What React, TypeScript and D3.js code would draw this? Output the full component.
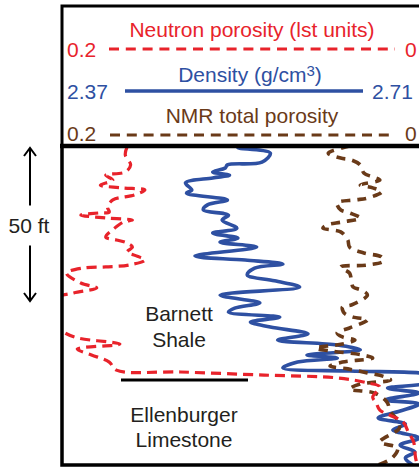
import React from 'react';
import * as d3 from 'd3';

// depth in ft below top of track, values in log units
const neutronDepth = [0.3, 2.9, 6.1, 8.4, 9.4, 11.0, 12.6, 13.5, 14.2, 15.8, 17.4, 19.7, 21.3, 21.6, 22.3, 23.2, 23.9, 24.5, 26.5, 29.4, 30.3, 31.3, 32.6, 34.2, 35.2, 36.8, 38.4, 39.0, 39.4, 41.0, 44.2, 45.8, 47.4, 49.7, 56.1, 60.3, 61.9, 63.9, 65.5, 67.4, 69.7, 72.3, 72.9, 73.9, 74.8, 76.4, 77.7, 81.0, 82.9, 85.2, 89.0, 92.3, 95.5, 100.3, 102.9];
const neutronPor = [0.164, 0.165, 0.162, 0.165, 0.176, 0.172, 0.179, 0.167, 0.154, 0.160, 0.172, 0.175, 0.174, 0.180, 0.190, 0.176, 0.161, 0.166, 0.171, 0.176, 0.170, 0.164, 0.161, 0.164, 0.160, 0.154, 0.163, 0.176, 0.189, 0.198, 0.190, 0.181, 0.194, 0.207, 0.210, 0.199, 0.192, 0.168, 0.192, 0.184, 0.174, 0.170, 0.134, 0.087, 0.046, 0.029, 0.022, 0.026, 0.024, 0.022, 0.009, 0.006, 0.003, 0.002, 0.001];

const densityDepth = [0, 0.6, 2.3, 5.2, 6.1, 7.1, 8.4, 9.4, 10.3, 11.9, 14.2, 15.2, 17.4, 19.0, 20.6, 22.3, 23.9, 26.5, 28.1, 29.7, 31.0, 32.6, 35.5, 36.8, 38.1, 39.4, 41.6, 43.5, 45.5, 48.1, 50.6, 52.3, 53.6, 55.2, 56.8, 58.4, 60.6, 62.6, 64.2, 65.8, 67.4, 68.4, 69.7, 71.6, 72.6, 73.2, 74.2, 76.4, 78.1, 79.7, 81.9, 83.2, 85.5, 87.7, 89.7, 91.6, 94.2, 96.5, 98.7, 100.6, 102.9];
const densityRho = [2.555, 2.537, 2.568, 2.560, 2.527, 2.525, 2.513, 2.529, 2.513, 2.487, 2.493, 2.488, 2.527, 2.508, 2.504, 2.528, 2.522, 2.536, 2.513, 2.537, 2.520, 2.555, 2.496, 2.544, 2.580, 2.553, 2.546, 2.572, 2.596, 2.520, 2.558, 2.534, 2.528, 2.577, 2.549, 2.568, 2.604, 2.575, 2.632, 2.654, 2.603, 2.632, 2.594, 2.580, 2.644, 2.710, 2.730, 2.720, 2.680, 2.710, 2.678, 2.710, 2.692, 2.671, 2.697, 2.685, 2.710, 2.692, 2.706, 2.697, 2.704];

const nmrDepth = [0, 2.3, 3.9, 4.5, 6.1, 8.7, 10.0, 11.0, 12.6, 13.5, 14.8, 16.8, 17.4, 18.4, 20.6, 21.6, 23.2, 24.5, 25.5, 26.5, 27.7, 30.3, 32.6, 34.5, 35.8, 37.1, 38.4, 39.0, 41.0, 43.2, 45.5, 46.5, 48.1, 51.3, 51.9, 53.9, 55.2, 56.1, 58.7, 60.3, 61.6, 62.6, 63.9, 65.2, 66.1, 67.4, 68.4, 69.7, 71.0, 71.9, 73.2, 74.5, 75.5, 76.8, 78.4, 79.7, 82.6, 85.8, 88.4, 91.0, 95.5, 97.4, 100.6, 102.9];
const nmrPor = [0.039, 0.051, 0.044, 0.038, 0.033, 0.031, 0.026, 0.022, 0.033, 0.026, 0.021, 0.029, 0.036, 0.046, 0.044, 0.039, 0.033, 0.043, 0.052, 0.054, 0.044, 0.040, 0.039, 0.031, 0.021, 0.020, 0.029, 0.044, 0.039, 0.038, 0.037, 0.032, 0.029, 0.038, 0.043, 0.042, 0.037, 0.029, 0.039, 0.046, 0.043, 0.036, 0.043, 0.058, 0.050, 0.032, 0.026, 0.043, 0.050, 0.040, 0.029, 0.019, 0.016, 0.033, 0.039, 0.025, 0.018, 0.016, 0.012, 0.011, 0.022, 0.012, 0.015, 0.023];

const porosityRange = [0.2, 0];
const densityRange = [2.37, 2.71];
const depthRange = [0, 103];
const scaleBarFt = 50;
const formationTopFt = 75.5;
const upperUnit = ['Barnett', 'Shale'];
const lowerUnit = ['Ellenburger', 'Limestone'];

const red = '#E8232B';
const blue = '#2E50A2';
const brown = '#6A3A18';
const ink = '#231F20';
const font = '"Liberation Sans", Arial, Helvetica, sans-serif';

const App = () => {
  const width = 419;
  const height = 468;
  const left = 63;
  const right = 419;
  const top = 146;
  const bottom = 465;

  const xPor = d3.scaleLinear().domain(porosityRange).range([left, right]);
  const xRho = d3.scaleLinear().domain(densityRange).range([left, right]);
  const yDepth = d3.scaleLinear().domain(depthRange).range([top, bottom + 0.3]);

  const line = d3.line<[number, number]>()
    .x((d) => d[0])
    .y((d) => d[1])
    .curve(d3.curveCatmullRom.alpha(0.5));

  const neutronPath = line(neutronDepth.map((d, i) => [xPor(neutronPor[i]), yDepth(d)]));
  const densityPath = line(densityDepth.map((d, i) => [xRho(densityRho[i]), yDepth(d)]));
  const nmrPath = line(nmrDepth.map((d, i) => [xPor(nmrPor[i]), yDepth(d)]));

  const arrowTop = yDepth(0) + 2;
  const arrowBot = yDepth(scaleBarFt);
  const arrowMid = (arrowTop + arrowBot) / 2;
  const yTop = yDepth(formationTopFt);

  return (
    <svg width={width} height={height} style={{ position: 'absolute', left: 0, top: 0, background: '#fff' }} fontFamily={font}>
      <defs>
        <clipPath id="track">
          <rect x={left} y={top} width={right - left + 10} height={bottom - top} />
        </clipPath>
      </defs>

      {/* header legend */}
      <g fontSize={21} textAnchor="middle">
        <text x={252} y={37} fill={red}>Neutron porosity (lst units)</text>
        <text x={67} y={57} fill={red} textAnchor="start">0.2</text>
        <line x1={109} x2={395} y1={49} y2={49} stroke={red} strokeWidth={3} strokeDasharray="10,6.8" />
        <text x={405} y={57} fill={red} textAnchor="start">0</text>

        <text x={250} y={82} fill={blue}>Density (g/cm<tspan fontSize={15} dy={-6}>3</tspan><tspan dy={6}>)</tspan></text>
        <text x={67} y={99} fill={blue} textAnchor="start">2.37</text>
        <line x1={125} x2={363} y1={91} y2={91} stroke={blue} strokeWidth={3.5} />
        <text x={372} y={99} fill={blue} textAnchor="start">2.71</text>

        <text x={252} y={123} fill={brown}>NMR total porosity</text>
        <text x={67} y={141} fill={brown} textAnchor="start">0.2</text>
        <line x1={110} x2={395} y1={135} y2={135} stroke={brown} strokeWidth={3} strokeDasharray="10,6.8" />
        <text x={405} y={141} fill={brown} textAnchor="start">0</text>
      </g>

      {/* curves */}
      <g clipPath="url(#track)" fill="none" strokeLinejoin="round">
        <path d={densityPath ?? ''} stroke={blue} strokeWidth={3.6} />
        <path d={nmrPath ?? ''} stroke={brown} strokeWidth={3.6} strokeDasharray="9,7" />
        <path d={neutronPath ?? ''} stroke={red} strokeWidth={3.2} strokeDasharray="10,6" />
      </g>

      {/* formation labels */}
      <line x1={121} x2={248} y1={yTop} y2={yTop} stroke="#000" strokeWidth={3} />
      <g fontSize={21} fill={ink} textAnchor="middle">
        <text x={179} y={321}>{upperUnit[0]}</text>
        <text x={179} y={347}>{upperUnit[1]}</text>
        <text x={184} y={422}>{lowerUnit[0]}</text>
        <text x={184} y={447}>{lowerUnit[1]}</text>
      </g>

      {/* frames */}
      <rect x={62} y={6} width={400} height={140} fill="none" stroke="#000" strokeWidth={3} />
      <rect x={62} y={top} width={400} height={bottom - top} fill="none" stroke="#000" strokeWidth={3.5} />
      <line x1={60} x2={419} y1={top} y2={top} stroke="#000" strokeWidth={4.5} />

      {/* depth scale bar */}
      <g stroke="#000" strokeWidth={2} fill="none">
        <line x1={30} x2={30} y1={arrowTop} y2={arrowMid - 19} />
        <line x1={30} x2={30} y1={arrowMid + 21} y2={arrowBot} />
        <path d={`M24,${arrowTop + 8} L30,${arrowTop} L36,${arrowTop + 8}`} />
        <path d={`M24,${arrowBot - 8} L30,${arrowBot} L36,${arrowBot - 8}`} />
      </g>
      <text x={29} y={arrowMid + 8} fontSize={21} fill={ink} textAnchor="middle">{scaleBarFt} ft</text>
    </svg>
  );
};

export default App;
